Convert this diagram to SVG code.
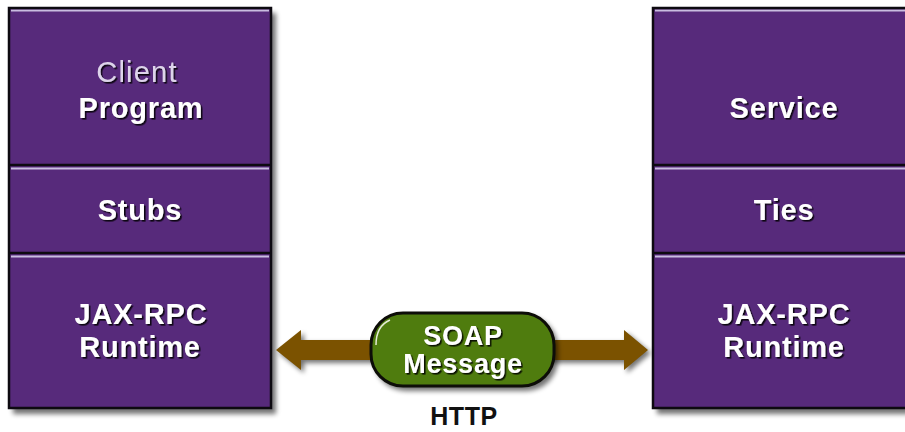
<svg xmlns="http://www.w3.org/2000/svg" width="905" height="432" viewBox="0 0 905 432">
  <defs>
    <filter id="boxShadow" x="-10%" y="-10%" width="130%" height="130%">
      <feGaussianBlur stdDeviation="2.5"/>
    </filter>
    <filter id="txtShadow" x="-20%" y="-40%" width="140%" height="180%">
      <feDropShadow dx="1.6" dy="1.6" stdDeviation="0.7" flood-color="#000" flood-opacity="0.85"/>
    </filter>
    <style>
      .panel { fill: #572a7b; }
      .edge { fill: none; stroke: #0d0a10; stroke-width: 2.5; }
      .sep { stroke: #0d0a10; stroke-width: 2.5; }
      .hl { stroke: #c9bde0; stroke-width: 2; }
      .shadow { fill: #000; opacity: 0.55; filter: url(#boxShadow); }
      .lbl { font-family: "Liberation Sans", Arial, sans-serif; font-weight: bold; font-size: 29px; fill: #fff; text-anchor: middle; letter-spacing: 0.8px; filter: url(#txtShadow); }
      .lite { font-weight: normal; fill: #ddd4ea; font-size: 29px; letter-spacing: 1.2px; }
      .arrow { fill: #7b5200; }
      .pill { fill: #4f7c0e; stroke: #0d0d08; stroke-width: 3; }
      .http { font-family: "Liberation Sans", Arial, sans-serif; font-weight: bold; font-size: 25px; fill: #111; text-anchor: middle; letter-spacing: 0.6px; }
    </style>
  </defs>

  <!-- client stack -->
  <g id="client">
    <rect class="shadow" x="13" y="13" width="263" height="401"/>
    <rect class="panel" x="9" y="8" width="262" height="400"/>
    <line class="hl" x1="11" y1="10.5" x2="269" y2="10.5"/>
    <line class="sep" x1="9" y1="165" x2="271" y2="165"/>
    <line class="hl" x1="11" y1="168.5" x2="269" y2="168.5"/>
    <line class="sep" x1="9" y1="253" x2="271" y2="253"/>
    <line class="hl" x1="11" y1="256.5" x2="269" y2="256.5"/>
    <rect class="edge" x="9" y="8" width="262" height="400"/>
    <text class="lbl lite" x="137" y="82">Client</text>
    <text class="lbl" x="141" y="118">Program</text>
    <text class="lbl" x="140" y="220">Stubs</text>
    <text class="lbl" x="141" y="324">JAX-RPC</text>
    <text class="lbl" x="140" y="357">Runtime</text>
  </g>

  <!-- service stack -->
  <g id="service">
    <rect class="shadow" x="657" y="13" width="263" height="401"/>
    <rect class="panel" x="653" y="8" width="262" height="400"/>
    <line class="hl" x1="655" y1="10.5" x2="913" y2="10.5"/>
    <line class="sep" x1="653" y1="165" x2="915" y2="165"/>
    <line class="hl" x1="655" y1="168.5" x2="913" y2="168.5"/>
    <line class="sep" x1="653" y1="253" x2="915" y2="253"/>
    <line class="hl" x1="655" y1="256.5" x2="913" y2="256.5"/>
    <rect class="edge" x="653" y="8" width="262" height="400"/>
    <text class="lbl" x="784" y="118">Service</text>
    <text class="lbl" x="784" y="220">Ties</text>
    <text class="lbl" x="784" y="324">JAX-RPC</text>
    <text class="lbl" x="784" y="357">Runtime</text>
  </g>

  <!-- double-headed link between the runtimes -->
  <g id="connectors">
    <path class="shadow" d="M279,353 L304,333 L304,343 L627,343 L627,333 L651,353 L627,373 L627,363 L304,363 L304,373 Z"/>
    <path class="arrow" d="M276,350 L301,330 L301,340 L624,340 L624,330 L648,350 L624,370 L624,360 L301,360 L301,370 Z"/>
  </g>

  <!-- message carried over the link -->
  <g id="soap">
    <rect class="shadow" x="374" y="316" width="184" height="75" rx="32"/>
    <rect class="pill" x="371" y="313" width="183" height="73" rx="32"/>
    <path d="M390,320 Q376,326 376,345" fill="none" stroke="#e6ecd8" stroke-width="1.5"/>
    <text class="lbl" x="463" y="345" style="font-size:27px">SOAP</text>
    <text class="lbl" x="463" y="373" style="font-size:27px">Message</text>
  </g>

  <g id="http">
    <text class="http" x="464" y="425">HTTP</text>
  </g>
</svg>
